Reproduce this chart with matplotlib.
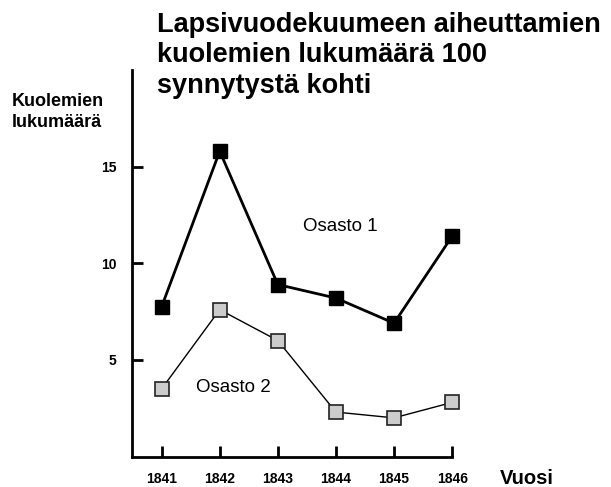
import matplotlib.pyplot as plt

plt.rcParams["font.family"] = ["Liberation Sans", "DejaVu Sans"]

years = [1841, 1842, 1843, 1844, 1845, 1846]
osasto1 = [7.75, 15.8, 8.9, 8.2, 6.9, 11.4]
osasto2 = [3.5, 7.6, 6.0, 2.3, 2.0, 2.8]
yticks = [5, 10, 15]

fig = plt.figure(figsize=(6.11, 4.87), dpi=100)
ax = fig.add_axes([0.216, 0.0626, 0.524, 0.7935])

ax.plot(years, osasto2, color="black", lw=1, marker="s", ms=10.5,
        mfc="#cccccc", mec="#222222", mew=1.2, zorder=3, clip_on=False)
ax.plot(years, osasto1, color="black", lw=2, marker="s", ms=10.5,
        mfc="black", mec="black", zorder=4, clip_on=False)

ax.set_xlim(1840.49, 1846.0)
ax.set_ylim(0, 20)
ax.set_xticks(years)
ax.set_yticks(yticks)
ax.set_xticklabels([str(y) for y in years], fontweight="bold", fontsize=10)
ax.set_yticklabels([str(v) for v in yticks], fontweight="bold", fontsize=10)
ax.tick_params(axis="x", direction="in", length=8, width=2, pad=11.5)
ax.tick_params(axis="y", direction="in", length=8, width=2, pad=11)

for s in ["top", "right"]:
    ax.spines[s].set_visible(False)
for s in ["left", "bottom"]:
    ax.spines[s].set_linewidth(2)

ax.text(1844.08, 11.9, "Osasto 1", fontsize=13.5, ha="center", va="center")
ax.text(1842.23, 3.55, "Osasto 2", fontsize=13.5, ha="center", va="center")

fig.text(157 / 611, 1 - 12 / 487,
         "Lapsivuodekuumeen aiheuttamien\nkuolemien lukumäärä 100\nsynnytystä kohti",
         fontsize=19.5, fontweight="bold", ha="left", va="top", linespacing=1.22)
fig.text(12 / 611, 1 - 112 / 487, "Kuolemien\nlukumäärä", fontsize=13,
         fontweight="bold", ha="left", va="center", linespacing=1.3)
fig.text(500 / 611, 1 - 478 / 487, "Vuosi", fontsize=14.5, fontweight="bold",
         ha="left", va="center")

fig.savefig("out.png", dpi=100)
